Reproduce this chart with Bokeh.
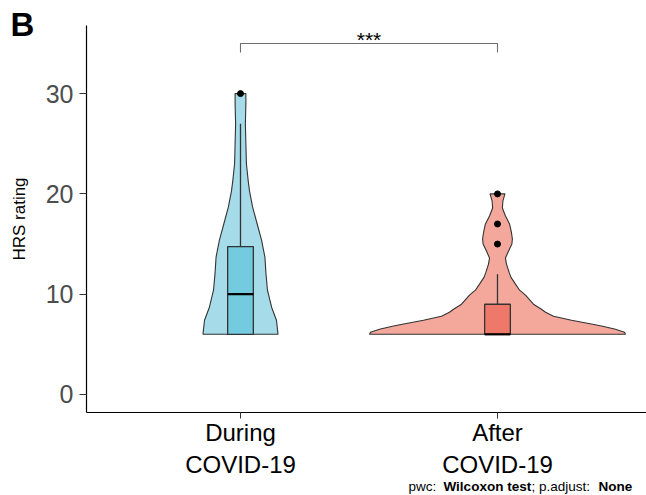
from bokeh.plotting import figure
from bokeh.models import Range1d, FixedTicker, Label
from bokeh.embed import file_html
from bokeh.resources import INLINE

# ---------------- data ----------------
categories = ["During\nCOVID-19", "After\nCOVID-19"]
positions = [1, 2]

q1 = [6, 6]
median = [10, 6]
q3 = [14.75, 9]
whisker_hi = [27, 12]
outliers_during = [30]
outliers_after = [20, 17, 15]

# violin outlines: value (y) and half-width (x units)
during_y = [6, 7.4, 8.7, 10.4, 12.1, 13.7, 15.4, 17, 18.7, 20.3, 21.3, 23, 25, 27, 29, 30]
during_hw = [0.146, 0.140, 0.121, 0.105, 0.099, 0.095, 0.082, 0.065, 0.047, 0.035,
             0.030, 0.023, 0.021, 0.019, 0.021, 0.021]

after_y = [6, 6.2, 6.5, 6.8, 7.0, 7.4, 7.8, 8.2, 8.5, 9.0, 9.9, 10.4, 11.0, 11.7, 12.2,
           13.0, 13.6, 14.3, 15.0, 15.5, 16.2, 17.0, 17.8, 18.6, 19.3, 20]
after_hw = [0.498, 0.494, 0.459, 0.409, 0.370, 0.288, 0.218, 0.187, 0.171, 0.140, 0.109,
            0.086, 0.070, 0.052, 0.045, 0.035, 0.031, 0.043, 0.056, 0.058, 0.054, 0.047,
            0.031, 0.019, 0.021, 0.029]

y_ticks = [0, 10, 20, 30]
sig_label = "***"
bracket_y = 35.0
bracket_drop = 0.9

# ---------------- styling / geometry ----------------
FONT = "Liberation Sans"
violin_fill = ["#a6dce9", "#f4a89c"]
box_fill = ["#74cbdf", "#ee796a"]
outline = "#333333"

W, H = 646, 495
# panel (axes box) in pixels, and its data limits
FL, FR, FT, FB = 86, 646, 25, 412
PX0, PX1 = 0.4008, 2.5798
PY0, PY1 = -1.795, 36.79
sx = (FR - FL) / (PX1 - PX0)
sy = (FB - FT) / (PY1 - PY0)
# whole canvas is the frame; ranges extended so panel keeps its place
X0, X1 = PX0 - FL / sx, PX1 + (W - FR) / sx
Y1, Y0 = PY1 + FT / sy, PY0 - (H - FB) / sy

def px_x(px):
    return X0 + px / sx

def px_y(py):
    return Y1 - py / sy

p = figure(width=W, height=H, output_backend="svg", toolbar_location=None,
           x_range=Range1d(X0, X1), y_range=Range1d(Y0, Y1),
           min_border=0, min_border_left=0, min_border_right=0,
           min_border_top=0, min_border_bottom=0)
p.title.visible = False
p.outline_line_color = None
p.xgrid.visible = False
p.ygrid.visible = False
p.background_fill_color = "white"
p.border_fill_color = "white"

# violins
for c, ys, hws, fc in [(positions[0], during_y, during_hw, violin_fill[0]),
                       (positions[1], after_y, after_hw, violin_fill[1])]:
    xs = [c + h for h in hws] + [c - h for h in reversed(hws)]
    yy = list(ys) + list(reversed(ys))
    p.patch(xs, yy, fill_color=fc, line_color=outline, line_width=1.1)

# boxes
bw = 0.05
p.segment(x0=positions, x1=positions, y0=q3, y1=whisker_hi, line_color=outline, line_width=1.3)
p.quad(left=[c - bw for c in positions], right=[c + bw for c in positions],
       bottom=q1, top=q3, fill_color=box_fill, line_color=outline, line_width=1.3)
p.segment(x0=[c - bw for c in positions], x1=[c + bw for c in positions],
          y0=median, y1=median, line_color="black", line_width=2.2)

# outliers
p.scatter([positions[0]] * len(outliers_during), outliers_during, size=6, color="black")
p.scatter([positions[1]] * len(outliers_after), outliers_after, size=6, color="black")

# significance bracket
p.line([positions[0], positions[0], positions[1], positions[1]],
       [bracket_y - bracket_drop, bracket_y, bracket_y, bracket_y - bracket_drop],
       line_color="#6e6e6e", line_width=1.1)
p.add_layout(Label(x=(positions[0] + positions[1]) / 2, y=px_y(39), text=sig_label,
                   text_align="center", text_baseline="alphabetic",
                   text_font=FONT, text_font_size="21px", text_color="black"))

# axes (fixed at the panel edges, bounded to the panel)
p.yaxis.fixed_location = PX0
p.yaxis.bounds = (PY0, PY1)
p.yaxis.ticker = FixedTicker(ticks=y_ticks)
p.yaxis.axis_label = "HRS rating"
p.yaxis.axis_label_text_font = FONT
p.yaxis.axis_label_text_font_size = "17px"
p.yaxis.axis_label_text_font_style = "normal"
p.yaxis.axis_label_text_color = "black"
p.yaxis.axis_label_standoff = 14
p.yaxis.major_label_text_font = FONT
p.yaxis.major_label_text_font_size = "25px"
p.yaxis.major_label_text_color = "#4d4d4d"
p.yaxis.major_label_standoff = 6
p.yaxis.major_tick_out = 7
p.yaxis.major_tick_in = 0
p.yaxis.minor_tick_out = 0
p.yaxis.minor_tick_in = 0
p.yaxis.axis_line_color = "black"
p.yaxis.axis_line_width = 1.2
p.yaxis.major_tick_line_color = "#333333"

p.xaxis.fixed_location = PY0
p.xaxis.bounds = (PX0, PX1)
p.xaxis.ticker = FixedTicker(ticks=positions)
p.xaxis.major_label_overrides = {pos: lab for pos, lab in zip(positions, categories)}
p.xaxis.major_label_text_font = FONT
p.xaxis.major_label_text_font_size = "24px"
p.xaxis.major_label_text_color = "black"
p.xaxis.major_label_standoff = 0
p.xaxis.major_tick_out = 6
p.xaxis.major_tick_in = 0
p.xaxis.minor_tick_out = 0
p.xaxis.minor_tick_in = 0
p.xaxis.axis_line_color = "black"
p.xaxis.axis_line_width = 1.2
p.xaxis.major_tick_line_color = "#333333"

# panel tag
p.add_layout(Label(x=px_x(10), y=px_y(24), text="B", text_align="left",
                   text_baseline="alphabetic", text_font=FONT, text_font_size="33px",
                   text_font_style="bold", text_color="black"))

# caption
cap_y = px_y(486)
for txt, xpx, style in [("pwc: ", 408, "normal"), ("Wilcoxon test", 443, "bold"),
                        ("; p.adjust: ", 531, "normal"), ("None", 598, "bold")]:
    p.add_layout(Label(x=px_x(xpx), y=cap_y, text=txt, text_align="left",
                       text_baseline="alphabetic", text_font=FONT, text_font_size="13.5px",
                       text_font_style=style, text_color="black"))

open("out.html", "w").write(file_html(p, INLINE))
